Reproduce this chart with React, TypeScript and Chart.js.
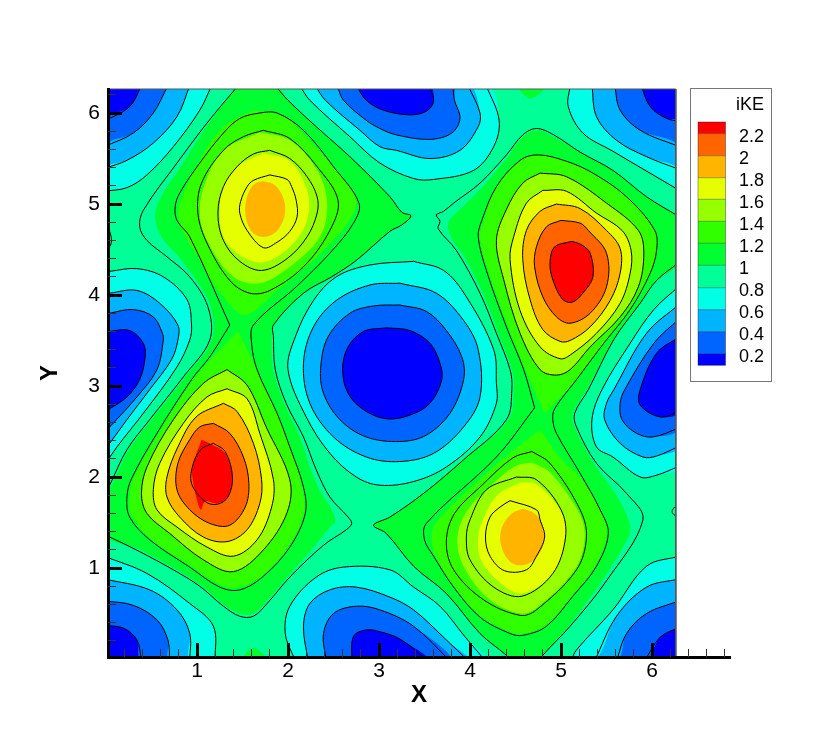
import React, { useEffect, useRef } from "react";
import { Chart, registerables } from "chart.js";

Chart.register(...registerables);

type Pt = [number, number];

// ---------- axis ticks ----------
const majorTicks = [1, 2, 3, 4, 5, 6];
const xMinorTicks = [0.2,0.4,0.6,0.8,1.2,1.4,1.6,1.8,2.2,2.4,2.6,2.8,3.2,3.4,3.6,3.8,4.2,4.4,4.6,4.8,5.2,5.4,5.6,5.8,6.2,6.4,6.6,6.8];
const yMinorTicks = [0.2,0.4,0.6,0.8,1.2,1.4,1.6,1.8,2.2,2.4,2.6,2.8,3.2,3.4,3.6,3.8,4.2,4.4,4.6,4.8,5.2,5.4,5.6,5.8,6.2];

// ---------- legend ----------
const legendTitle = "iKE";
const legendLabels = ["2.2","2","1.8","1.6","1.4","1.2","1","0.8","0.6","0.4","0.2"];
const legendColors = ["#ff0000","#ff6400","#ffb400","#e6ff00","#96ff00","#30ff00","#00ff30","#00ff96","#00ffe6","#00b4ff","#0064ff","#0000ff"];
const levelColor: Record<string,string> = {"2.2":"#ff0000","2":"#ff6400","1.8":"#ffb400","1.6":"#e6ff00","1.4":"#96ff00","1.2":"#30ff00","1":"#00ff30","0.8":"#00ffe6","0.6":"#00b4ff","0.4":"#0064ff","0.2":"#0000ff"};
const baseColor = "#00ff96";

// ---------- domain ----------
const fieldCorners: Pt[] = [[-0.1,-0.1],[6.262,-0.1],[6.262,6.4],[-0.1,6.4],[-0.1,-0.1]];
const frameEdge: Pt[] = [[0.022,6.264],[6.262,6.264],[6.262,0.022]];
const outsideStrip: Pt[] = [[6.264,-0.1],[7,-0.1],[7,6.4],[6.264,6.4],[6.264,-0.1]];

// ---------- peak A contours ----------
const A18: Pt[] = [[1.80,5.32],[1.99,5.27],[2.04,5.19],[2.09,5.04],[2.10,4.86],[2.02,4.70],[1.88,4.58],[1.73,4.52],[1.55,4.71],[1.47,4.90],[1.48,5.03],[1.55,5.19],[1.62,5.26]];
const A16: Pt[] = [[1.80,5.59],[2.02,5.50],[2.21,5.30],[2.32,5.08],[2.32,4.90],[2.21,4.64],[1.99,4.40],[1.71,4.27],[1.47,4.37],[1.29,4.60],[1.23,4.90],[1.29,5.19],[1.44,5.41],[1.62,5.55]];
const A14: Pt[] = [[1.73,5.81],[2.02,5.72],[2.32,5.41],[2.55,5.04],[2.46,4.71],[2.17,4.31],[1.80,4.05],[1.58,4.02],[1.36,4.16],[1.11,4.57],[1.01,4.90],[1.05,5.23],[1.29,5.59],[1.51,5.74]];
// ---------- peak A fill outlines ----------
const A18f: Pt[] = [[1.72,5.25],[1.84,5.22],[1.93,5.11],[1.97,4.96],[1.94,4.80],[1.85,4.68],[1.73,4.64],[1.62,4.68],[1.55,4.80],[1.53,4.96],[1.56,5.11],[1.63,5.22]];
const A16f: Pt[] = [[1.73,5.56],[2.02,5.47],[2.21,5.15],[2.21,4.82],[2.02,4.53],[1.73,4.36],[1.47,4.44],[1.29,4.64],[1.25,4.93],[1.29,5.19],[1.44,5.41]];
const A14f: Pt[] = [[1.69,5.79],[2.02,5.70],[2.32,5.37],[2.43,5.01],[2.35,4.64],[2.02,4.31],[1.69,4.13],[1.40,4.20],[1.11,4.60],[1.03,4.90],[1.09,5.23],[1.29,5.59]];
const A12f: Pt[] = [[1.62,6.03],[1.95,5.96],[2.20,5.74],[2.72,5.12],[2.72,4.90],[2.39,4.49],[1.88,4.05],[1.53,3.78],[1.29,3.98],[1.03,4.38],[0.81,4.79],[0.81,5.0],[1.03,5.48],[1.29,5.85]];
// ---------- peak C ----------
const C22: Pt[] = [[1.18,2.37],[1.31,2.28],[1.39,2.0],[1.34,1.78],[1.22,1.70],[1.09,1.73],[0.94,1.93],[0.96,2.15],[1.05,2.31]];
const C22f: Pt[] = [[1.05,2.41],[1.18,2.35],[1.31,2.26],[1.39,2.0],[1.34,1.78],[1.22,1.71],[1.09,1.73],[1.04,1.64],[0.96,1.93],[0.95,2.11]];
const C20: Pt[] = [[1.18,2.59],[1.36,2.48],[1.51,2.22],[1.57,1.93],[1.53,1.67],[1.36,1.47],[1.14,1.49],[0.92,1.64],[0.78,1.86],[0.79,2.15],[0.92,2.41],[1.03,2.55]];
const C18: Pt[] = [[1.29,2.81],[1.44,2.72],[1.62,2.37],[1.71,1.97],[1.69,1.71],[1.55,1.42],[1.33,1.29],[1.07,1.34],[0.81,1.56],[0.67,1.78],[0.67,2.0],[0.79,2.33],[0.99,2.66]];
const C16: Pt[] = [[1.33,2.97],[1.55,2.86],[1.69,2.48],[1.84,1.97],[1.82,1.67],[1.66,1.31],[1.40,1.13],[1.11,1.23],[0.78,1.45],[0.56,1.64],[0.52,1.86],[0.59,2.15],[0.85,2.59],[1.11,2.88]];
const C14: Pt[] = [[1.33,3.18],[1.55,3.01],[1.76,2.55],[2.02,1.97],[1.99,1.61],[1.73,1.20],[1.40,0.96],[1.07,1.09],[0.70,1.38],[0.45,1.60],[0.39,1.82],[0.45,2.11],[0.74,2.63],[1.07,3.03]];
const C12f: Pt[] = [[1.45,3.60],[1.66,3.18],[1.88,2.70],[2.02,2.33],[2.15,1.89],[2.17,1.60],[2.0,1.23],[1.73,0.93],[1.47,0.79],[1.25,0.82],[0.92,1.03],[0.48,1.33],[0.28,1.58],[0.26,1.78],[0.30,1.98],[0.58,2.48],[0.96,3.07],[1.25,3.40]];
// ---------- A + C outer contours ----------
const AC12: Pt[] = [[1.36,3.67],[0.92,4.64],[0.78,4.82],[0.76,4.97],[0.81,5.12],[1.03,5.45],[1.29,5.78],[1.47,5.94],[1.69,6.0],[1.88,6.0],[2.17,5.81],[2.50,5.41],[2.78,5.01],[2.72,4.79],[2.46,4.46],[2.09,4.09],[1.62,3.67],[1.60,3.47],[1.66,3.18],[1.88,2.70],[2.02,2.33],[2.17,1.89],[2.19,1.60],[2.02,1.23],[1.73,0.91],[1.47,0.76],[1.25,0.79],[0.92,1.01],[0.48,1.31],[0.26,1.56],[0.23,1.78],[0.28,1.98],[0.56,2.48],[0.94,3.07],[1.14,3.32]];
const AC10a: Pt[] = [[1.45,6.3],[1.11,5.89],[0.78,5.45],[0.41,4.93],[0.37,4.75],[0.45,4.60],[0.67,4.42],[0.92,4.20],[1.12,3.87],[1.14,3.505],[0.85,3.10],[0.48,2.63],[0.23,2.30],[0.04,1.91],[-0.02,1.80]];
const AC10b: Pt[] = [[-0.02,1.37],[0.37,1.18],[0.74,0.98],[1.03,0.80],[1.29,0.58],[1.47,0.47],[1.62,0.47],[1.77,0.61],[2.02,0.90],[2.39,1.25],[2.64,1.42],[2.70,1.49],[2.66,1.56],[2.46,1.78],[2.31,2.08],[2.17,2.44],[1.98,2.81],[1.86,3.18],[1.84,3.54],[1.84,3.67],[2.17,4.02],[2.48,4.20],[2.75,4.38],[3.12,4.70],[3.25,4.77],[3.35,4.87],[3.25,4.91],[3.12,5.08],[2.68,5.52],[2.31,5.85],[2.0,6.14],[1.86,6.3]];
const AC10f: Pt[] = [[1.45,6.3],[1.13,5.89],[0.85,5.45],[0.60,5.07],[0.54,4.86],[0.62,4.62],[0.80,4.42],[1.0,4.15],[1.15,3.87],[1.16,3.505],[0.87,3.10],[0.50,2.63],[0.25,2.30],[0.06,1.91],[-0.02,1.8],[-0.02,1.37],[0.37,1.20],[0.74,1.0],[1.03,0.82],[1.29,0.60],[1.47,0.50],[1.62,0.50],[1.77,0.64],[2.02,0.93],[2.30,1.25],[2.46,1.45],[2.52,1.52],[2.46,1.68],[2.35,1.85],[2.25,2.08],[2.13,2.44],[1.96,2.81],[1.84,3.18],[1.82,3.54],[1.84,3.67],[2.17,4.02],[2.48,4.20],[2.75,4.38],[3.12,4.70],[3.25,4.77],[3.37,4.87],[3.25,4.91],[3.12,5.08],[2.68,5.52],[2.31,5.85],[2.0,6.14],[1.86,6.3]];
// ---------- peak B ----------
const B22: Pt[] = [[5.12,4.59],[5.23,4.55],[5.32,4.46],[5.35,4.20],[5.24,4.02],[5.12,3.92],[5.01,3.96],[4.90,4.20],[4.88,4.37],[4.93,4.53]];
const B20: Pt[] = [[5.0,4.82],[5.21,4.79],[5.30,4.71],[5.50,4.46],[5.50,4.09],[5.32,3.80],[5.10,3.69],[4.95,3.76],[4.80,3.98],[4.71,4.31],[4.73,4.53],[4.84,4.75]];
const B18: Pt[] = [[4.95,5.0],[5.21,4.95],[5.50,4.71],[5.65,4.51],[5.65,4.24],[5.54,3.94],[5.32,3.65],[5.10,3.50],[4.99,3.49],[4.80,3.62],[4.66,3.95],[4.58,4.39],[4.62,4.71],[4.77,4.92]];
const B16: Pt[] = [[4.80,5.15],[5.06,5.14],[5.39,4.90],[5.67,4.71],[5.77,4.49],[5.76,4.24],[5.65,3.91],[5.39,3.58],[5.10,3.34],[4.99,3.30],[4.77,3.43],[4.55,3.83],[4.44,4.39],[4.48,4.64],[4.62,5.01]];
const B14: Pt[] = [[4.77,5.34],[5.06,5.30],[5.50,5.01],[5.85,4.71],[5.91,4.46],[5.85,4.09],[5.65,3.76],[5.32,3.43],[5.10,3.18],[4.95,3.12],[4.77,3.18],[4.55,3.58],[4.37,4.17],[4.29,4.60],[4.40,4.94],[4.58,5.23]];
const B12f: Pt[] = [[4.82,2.70],[5.17,3.07],[5.47,3.47],[5.76,3.84],[5.98,4.24],[6.05,4.49],[6.03,4.71],[5.72,5.08],[5.35,5.34],[5.06,5.47],[4.75,5.54],[4.55,5.48],[4.29,5.19],[4.15,4.82],[4.11,4.64],[4.20,4.27],[4.42,3.65],[4.61,3.18]];
// ---------- peak D ----------
const D18: Pt[] = [[4.44,1.74],[4.73,1.64],[4.77,1.53],[4.82,1.34],[4.73,1.13],[4.62,0.98],[4.38,0.97],[4.22,1.13],[4.17,1.34],[4.22,1.56],[4.33,1.67]];
const D16: Pt[] = [[4.51,2.0],[4.73,1.97],[5.0,1.64],[5.05,1.34],[4.91,0.94],[4.57,0.69],[4.26,0.79],[4.0,1.09],[3.96,1.34],[4.0,1.53],[4.18,1.86]];
const D14: Pt[] = [[4.68,2.28],[4.88,2.15],[5.21,1.64],[5.28,1.34],[5.17,0.98],[4.73,0.54],[4.55,0.48],[4.15,0.65],[3.82,0.98],[3.74,1.29],[3.83,1.60],[4.11,1.89],[4.47,2.21]];
const D18f: Pt[] = [[4.58,1.65],[4.71,1.60],[4.79,1.49],[4.82,1.34],[4.78,1.19],[4.68,1.07],[4.55,1.03],[4.44,1.07],[4.36,1.19],[4.33,1.34],[4.37,1.49],[4.46,1.60]];
const D16f: Pt[] = [[4.55,1.94],[4.73,1.92],[5.0,1.62],[5.05,1.34],[4.91,0.94],[4.57,0.72],[4.33,0.84],[4.12,1.09],[4.09,1.34],[4.15,1.55],[4.30,1.80]];
const D14f: Pt[] = [[4.68,2.16],[4.88,2.05],[5.19,1.62],[5.26,1.34],[5.15,0.98],[4.73,0.56],[4.55,0.50],[4.22,0.65],[3.95,0.98],[3.86,1.29],[3.95,1.60],[4.25,1.92],[4.50,2.12]];
const D12f: Pt[] = [[4.77,2.52],[5.0,2.2],[5.21,2.0],[5.43,1.64],[5.50,1.38],[5.37,1.02],[5.13,0.71],[4.84,0.38],[4.58,0.28],[4.44,0.30],[4.11,0.48],[3.82,0.81],[3.62,1.13],[3.58,1.31],[3.62,1.49],[4.29,2.14]];
// ---------- B + D outer contours ----------
const BD12: Pt[] = [[4.71,2.76],[4.29,2.22],[3.52,1.49],[3.50,1.31],[3.60,1.13],[3.82,0.79],[4.11,0.46],[4.44,0.28],[4.58,0.26],[4.84,0.36],[5.13,0.69],[5.39,1.02],[5.52,1.38],[5.43,1.64],[5.21,2.04],[4.95,2.48],[4.91,2.63],[4.93,2.75],[5.17,3.07],[5.47,3.47],[5.76,3.84],[5.98,4.24],[6.05,4.49],[6.03,4.71],[5.72,5.08],[5.35,5.34],[5.06,5.47],[4.75,5.54],[4.55,5.48],[4.29,5.19],[4.13,4.82],[4.09,4.64],[4.18,4.27],[4.40,3.65],[4.59,3.18]];
const BD10a: Pt[] = [[6.3,4.86],[5.94,5.08],[5.57,5.37],[5.21,5.57],[4.92,5.76],[4.73,5.83],[4.58,5.76],[4.40,5.54],[4.11,5.23],[3.82,5.01],[3.71,4.92],[3.63,4.88],[3.67,4.81],[3.65,4.73],[3.85,4.49],[4.11,4.02],[4.29,3.58],[4.44,3.18],[4.46,2.96],[4.40,2.63],[3.93,2.19],[3.49,1.82],[3.12,1.56],[2.94,1.47],[3.08,1.38],[3.38,1.02],[3.74,0.72],[4.11,0.28],[4.40,0.04],[4.44,-0.02]];
const BD10b: Pt[] = [[4.78,-0.02],[4.80,0.04],[5.10,0.36],[5.50,0.86],[5.90,1.53],[5.72,1.82],[5.39,2.15],[5.17,2.55],[5.15,2.70],[5.30,2.96],[5.58,3.51],[5.87,3.91],[6.05,4.16],[6.3,4.36]];
const BD10f: Pt[] = [[6.3,4.86],[5.94,5.08],[5.57,5.37],[5.21,5.57],[4.92,5.74],[4.73,5.81],[4.58,5.74],[4.40,5.50],[4.15,5.20],[3.90,4.95],[3.76,4.79],[3.80,4.62],[3.95,4.40],[4.15,4.0],[4.31,3.58],[4.46,3.18],[4.48,2.96],[4.42,2.63],[3.93,2.19],[3.49,1.82],[3.12,1.56],[2.94,1.47],[3.08,1.38],[3.38,1.02],[3.74,0.72],[4.11,0.28],[4.40,0.04],[4.44,-0.02],[4.78,-0.02],[4.80,0.04],[5.10,0.38],[5.45,0.86],[5.72,1.30],[5.76,1.46],[5.62,1.78],[5.36,2.15],[5.15,2.55],[5.13,2.70],[5.28,2.96],[5.58,3.51],[5.87,3.91],[6.05,4.16],[6.3,4.36]];
const rightNotch: Pt[] = [[6.3,1.72],[6.22,1.62],[6.3,1.54]];
const leftNotch: Pt[] = [[-0.02,4.80],[0.04,4.7],[0.06,4.6],[0.04,4.53],[-0.02,4.50]];
const bottomPatch: Pt[] = [[1.45,-0.05],[1.62,0.12],[1.79,-0.05]];
const topPatch: Pt[] = [[4.50,6.3],[4.66,6.16],[4.83,6.3]];
// ---------- centre low E ----------
const E08: Pt[] = [[3.38,4.37],[3.71,4.27],[3.96,3.98],[4.26,3.40],[4.29,3.03],[4.29,2.81],[4.11,2.44],[3.74,2.11],[3.38,1.95],[3.01,1.91],[2.75,2.0],[2.46,2.26],[2.20,2.66],[2.0,3.18],[2.08,3.54],[2.28,3.94],[2.53,4.20],[2.90,4.33]];
const E06: Pt[] = [[3.23,4.13],[3.63,4.02],[3.93,3.72],[4.09,3.40],[4.11,2.88],[3.93,2.55],[3.60,2.26],[3.23,2.17],[2.86,2.22],[2.50,2.44],[2.24,2.81],[2.17,3.25],[2.28,3.65],[2.53,3.94],[2.90,4.11]];
const E04: Pt[] = [[3.23,3.89],[3.52,3.82],[3.74,3.61],[3.91,3.32],[3.93,3.07],[3.78,2.70],[3.52,2.46],[3.23,2.39],[2.86,2.44],[2.57,2.63],[2.39,2.92],[2.36,3.21],[2.44,3.54],[2.68,3.80],[2.94,3.88]];
const E02: Pt[] = [[3.08,3.64],[3.34,3.61],[3.56,3.47],[3.67,3.25],[3.69,3.07],[3.56,2.81],[3.34,2.68],[3.08,2.64],[2.83,2.74],[2.66,2.92],[2.60,3.18],[2.66,3.43],[2.83,3.60]];
// ---------- left low F ----------
const F08: Pt[] = [[-0.02,4.25],[0.04,4.26],[0.34,4.29],[0.63,4.20],[0.89,3.95],[0.94,3.67],[0.92,3.505],[0.78,3.21],[0.41,2.70],[0.12,2.33],[-0.02,2.12]];
const F06: Pt[] = [[-0.02,4.0],[0.04,4.02],[0.34,4.05],[0.59,3.91],[0.79,3.67],[0.79,3.505],[0.72,3.29],[0.48,2.96],[0.23,2.63],[0.04,2.37],[-0.02,2.30]];
const F04: Pt[] = [[-0.02,3.78],[0.04,3.80],[0.30,3.84],[0.52,3.76],[0.62,3.58],[0.63,3.505],[0.56,3.18],[0.34,2.88],[0.04,2.55],[-0.02,2.50]];
const F02: Pt[] = [[-0.02,3.58],[0.04,3.60],[0.26,3.61],[0.41,3.47],[0.43,3.32],[0.37,3.07],[0.23,2.88],[0.04,2.75],[-0.02,2.72]];
// ---------- right low G ----------
const G08: Pt[] = [[6.3,4.10],[6.02,3.84],[5.76,3.47],[5.45,2.96],[5.34,2.63],[5.39,2.33],[5.57,2.22],[5.87,2.0],[6.05,2.02],[6.3,2.12]];
const G06: Pt[] = [[6.3,3.90],[5.94,3.58],[5.58,2.96],[5.50,2.81],[5.48,2.63],[5.65,2.37],[5.90,2.22],[6.05,2.23],[6.3,2.34]];
const G04: Pt[] = [[6.3,3.74],[6.02,3.47],[5.70,2.96],[5.65,2.81],[5.67,2.63],[5.83,2.48],[6.01,2.44],[6.3,2.54]];
const G02: Pt[] = [[6.3,3.54],[6.05,3.36],[5.87,2.96],[5.87,2.79],[6.09,2.66],[6.3,2.72]];
// ---------- top-left corner ----------
const TL08: Pt[] = [[1.16,6.3],[1.03,6.03],[0.74,5.63],[0.45,5.32],[0.23,5.18],[-0.02,5.14]];
const TL06: Pt[] = [[0.92,6.3],[0.78,5.96],[0.52,5.67],[0.23,5.48],[-0.02,5.39]];
const TL04: Pt[] = [[0.68,6.3],[0.52,6.0],[0.30,5.78],[-0.02,5.63]];
const TL02: Pt[] = [[0.39,6.3],[0.26,6.07],[-0.02,5.91]];
// ---------- top-middle low ----------
const TM08: Pt[] = [[2.13,6.3],[2.24,6.14],[2.68,5.74],[3.01,5.45],[3.38,5.28],[3.60,5.27],[4.04,5.37],[4.26,5.63],[4.32,5.92],[4.18,6.3]];
const TM06: Pt[] = [[2.30,6.3],[2.41,6.14],[2.79,5.81],[3.01,5.63],[3.19,5.59],[3.56,5.50],[3.89,5.59],[4.09,5.85],[4.11,6.0],[3.98,6.3]];
const TM04: Pt[] = [[2.54,6.3],[2.61,6.14],[2.86,5.92],[3.01,5.83],[3.19,5.76],[3.56,5.71],[3.80,5.78],[3.89,5.94],[3.83,6.14],[3.81,6.3]];
const TM02: Pt[] = [[2.75,6.3],[2.86,6.14],[3.05,6.03],[3.34,5.98],[3.52,6.02],[3.60,6.13],[3.55,6.3]];
// ---------- top-right corner ----------
const TR08: Pt[] = [[5.10,6.3],[5.08,6.07],[5.24,5.78],[5.57,5.58],[6.3,5.15]];
const TR06: Pt[] = [[5.34,6.3],[5.39,5.96],[5.61,5.70],[5.94,5.52],[6.3,5.38]];
const TR04: Pt[] = [[5.59,6.3],[5.65,6.03],[5.87,5.81],[6.3,5.63]];
const TR02: Pt[] = [[5.88,6.3],[5.98,6.07],[6.16,5.94],[6.3,5.91]];
// ---------- bottom-left corner ----------
const BL08: Pt[] = [[-0.02,1.13],[0.45,0.94],[0.92,0.61],[1.18,0.36],[1.20,-0.02]];
const BL06: Pt[] = [[-0.02,0.88],[0.48,0.76],[0.78,0.54],[0.92,0.28],[0.92,-0.02]];
const BL04: Pt[] = [[-0.02,0.64],[0.30,0.59],[0.56,0.43],[0.68,0.21],[0.70,-0.02]];
const BL02: Pt[] = [[-0.02,0.37],[0.19,0.34],[0.34,0.21],[0.39,-0.02]];
// ---------- bottom-middle low ----------
const BM08: Pt[] = [[2.08,-0.02],[1.97,0.28],[2.02,0.58],[2.31,0.90],[2.61,1.01],[3.12,0.98],[3.38,0.79],[3.67,0.58],[3.94,0.25],[4.17,-0.02]];
const BM06: Pt[] = [[2.22,-0.02],[2.17,0.36],[2.24,0.61],[2.46,0.76],[2.75,0.79],[3.12,0.68],[3.38,0.54],[3.74,0.21],[3.98,-0.02]];
const BM04: Pt[] = [[2.42,-0.02],[2.39,0.28],[2.50,0.50],[2.75,0.58],[3.01,0.54],[3.38,0.36],[3.78,-0.02]];
const BM02: Pt[] = [[2.70,-0.02],[2.72,0.25],[2.86,0.32],[3.01,0.30],[3.23,0.22],[3.54,-0.02]];
// ---------- bottom-right corner ----------
const BR08: Pt[] = [[6.3,1.13],[5.94,1.02],[5.57,0.54],[5.17,0.10],[5.11,-0.02]];
const BR06: Pt[] = [[6.3,0.88],[5.94,0.79],[5.61,0.47],[5.37,-0.02]];
const BR04: Pt[] = [[6.3,0.64],[5.94,0.50],[5.72,0.28],[5.61,-0.02]];
const BR02: Pt[] = [[6.3,0.35],[6.09,0.24],[5.92,-0.02]];

// filled bands: level + outline (closed automatically), extra closing points for corner regions
type Band = { level: string; pts: Pt[]; close?: Pt[] };
const TLc: Pt[] = [[-0.1,5],[-0.1,6.4],[1.2,6.4]];
const TRc: Pt[] = [[6.4,5],[6.4,6.4]];
const BLc: Pt[] = [[1.3,-0.1],[-0.1,-0.1]];
const BRc: Pt[] = [[5,-0.1],[6.4,-0.1]];
const bands: Band[] = [
  { level:"1", pts:AC10f }, { level:"1", pts:BD10f }, { level:"1", pts:bottomPatch }, { level:"1", pts:topPatch },
  { level:"1.2", pts:A12f }, { level:"1.2", pts:C12f }, { level:"1.2", pts:B12f }, { level:"1.2", pts:D12f },
  { level:"1.4", pts:A14f }, { level:"1.4", pts:C14 }, { level:"1.4", pts:B14 }, { level:"1.4", pts:D14f },
  { level:"1.6", pts:A16f }, { level:"1.6", pts:C16 }, { level:"1.6", pts:B16 }, { level:"1.6", pts:D16f },
  { level:"1.8", pts:A18f }, { level:"1.8", pts:C18 }, { level:"1.8", pts:B18 }, { level:"1.8", pts:D18f },
  { level:"2", pts:C20 }, { level:"2", pts:B20 },
  { level:"2.2", pts:C22f }, { level:"2.2", pts:B22 },
  { level:"0.8", pts:E08 }, { level:"0.8", pts:F08 }, { level:"0.8", pts:G08 }, { level:"0.8", pts:TL08, close:TLc }, { level:"0.8", pts:TM08 }, { level:"0.8", pts:TR08, close:TRc }, { level:"0.8", pts:BL08, close:BLc }, { level:"0.8", pts:BM08 }, { level:"0.8", pts:BR08, close:BRc },
  { level:"0.6", pts:E06 }, { level:"0.6", pts:F06 }, { level:"0.6", pts:G06 }, { level:"0.6", pts:TL06, close:TLc }, { level:"0.6", pts:TM06 }, { level:"0.6", pts:TR06, close:TRc }, { level:"0.6", pts:BL06, close:BLc }, { level:"0.6", pts:BM06 }, { level:"0.6", pts:BR06, close:BRc },
  { level:"0.4", pts:E04 }, { level:"0.4", pts:F04 }, { level:"0.4", pts:G04 }, { level:"0.4", pts:TL04, close:TLc }, { level:"0.4", pts:TM04 }, { level:"0.4", pts:TR04, close:TRc }, { level:"0.4", pts:BL04, close:BLc }, { level:"0.4", pts:BM04 }, { level:"0.4", pts:BR04, close:BRc },
  { level:"0.2", pts:E02 }, { level:"0.2", pts:F02 }, { level:"0.2", pts:G02 }, { level:"0.2", pts:TL02, close:TLc }, { level:"0.2", pts:TM02 }, { level:"0.2", pts:TR02, close:TRc }, { level:"0.2", pts:BL02, close:BLc }, { level:"0.2", pts:BM02 }, { level:"0.2", pts:BR02, close:BRc },
];
// black contour lines
const ringLines: Pt[][] = [A18,A16,A14,C22,C20,C18,C16,C14,AC12,B22,B20,B18,B16,B14,D18,D16,D14,BD12,E08,E06,E04,E02];
const openLines: Pt[][] = [AC10a,AC10b,BD10a,BD10b,rightNotch,leftNotch,F08,F06,F04,F02,G08,G06,G04,G02,TL08,TL06,TL04,TL02,TM08,TM06,TM04,TM02,TR08,TR06,TR04,TR02,BL08,BL06,BL04,BL02,BM08,BM06,BM04,BM02,BR08,BR06,BR04,BR02];

const FONT = "'Liberation Sans', Arial, Helvetica, sans-serif";
const X_MIN = 0.022, X_MAX = 6.857, Y_MIN = 0.022, Y_MAX = 6.264;
const fieldClip = { left: 0, top: 0, bottom: 0, right: -54.5 };
const TENSION = 0.35;

const xy = (pts: Pt[]) => pts.map(([x, y]) => ({ x, y }));

function buildDatasets() {
  const fills: any[] = [
    { data: xy(fieldCorners), showLine: true, fill: "shape", backgroundColor: baseColor, borderWidth: 0, pointRadius: 0, tension: 0 },
  ];
  for (const b of bands) {
    const shape: Pt[] = [...b.pts, ...(b.close || []), b.pts[0]];
    fills.push({ data: xy(shape), showLine: true, fill: "shape", backgroundColor: levelColor[b.level], borderWidth: 0, pointRadius: 0, tension: TENSION, clip: fieldClip });
  }
  fills.push({ data: xy(outsideStrip), showLine: true, fill: "shape", backgroundColor: "#ffffff", borderWidth: 0, pointRadius: 0, tension: 0 });
  const line = (pts: Pt[]) => ({ data: xy(pts), showLine: true, fill: false, borderColor: "#000", borderWidth: 1, pointRadius: 0, tension: TENSION, clip: fieldClip });
  const lines: any[] = [
    ...ringLines.map((p) => line([...p, p[0]])),
    ...openLines.map((p) => line(p)),
    { data: xy(frameEdge), showLine: true, fill: false, borderColor: "#555", borderWidth: 1, pointRadius: 0, tension: 0, clip: false },
  ];
  // Chart.js paints index 0 last
  return [...lines.reverse(), ...fills.reverse()];
}

const legendPlugin = {
  id: "contourLegend",
  afterDraw(chart: any) {
    const c = chart.ctx;
    c.save();
    c.fillStyle = "#fff";
    c.strokeStyle = "#777";
    c.lineWidth = 1;
    c.fillRect(691, 89, 80, 292);
    c.strokeRect(690.5, 88.5, 81, 293);
    c.fillStyle = "#000";
    c.font = `18px ${FONT}`;
    c.textBaseline = "middle";
    c.textAlign = "right";
    c.fillText(legendTitle, 764, 105);
    const edges = [122, 133.7, 155.7, 177.7, 199.3, 221.3, 243.3, 265.3, 287.7, 309.7, 331.7, 354, 365.3];
    legendColors.forEach((col, i) => {
      c.fillStyle = col;
      c.fillRect(698, edges[i], 27.5, edges[i + 1] - edges[i]);
    });
    c.strokeStyle = "rgba(0,0,0,0.35)";
    c.strokeRect(698, 122, 27.5, 243.3);
    edges.slice(1, -1).forEach((e) => {
      c.beginPath();
      c.moveTo(698, e);
      c.lineTo(725.5, e);
      c.stroke();
    });
    c.fillStyle = "#000";
    c.textAlign = "left";
    legendLabels.forEach((t, i) => c.fillText(t, 739, 137.5 + i * 21.95));
    c.restore();
  },
};

export default function App() {
  const ref = useRef<HTMLCanvasElement>(null);
  useEffect(() => {
    const chart = new Chart(ref.current as HTMLCanvasElement, {
      type: "scatter",
      data: { datasets: buildDatasets() },
      plugins: [legendPlugin],
      options: {
        animation: false,
        responsive: false,
        events: [],
        layout: { padding: { top: 89, right: 100, left: 0, bottom: 0 } },
        plugins: {
          legend: { display: false },
          tooltip: { enabled: false },
          filler: { drawTime: "beforeDatasetsDraw", propagate: false },
        },
        scales: {
          x: {
            type: "linear", position: "bottom", min: X_MIN, max: X_MAX, weight: 0,
            afterBuildTicks: (s: any) => { s.ticks = majorTicks.map((value) => ({ value })); },
            afterFit: (s: any) => { s.height = 82; },
            ticks: { z: 1, autoSkip: false, maxRotation: 0, padding: 16, color: "#000", font: { family: FONT, size: 21 }, callback: (v: any) => String(v) },
            grid: { z: 1, drawOnChartArea: false, drawTicks: true, tickLength: -14, tickWidth: 3, tickColor: "#000" },
            border: { z: 1, display: true, color: "#000", width: 3 },
            title: { display: true, text: "X", color: "#000", font: { family: FONT, size: 24, weight: "bold" }, padding: { top: 0, bottom: 29.6 } },
          },
          xMinor: {
            type: "linear", position: "bottom", min: X_MIN, max: X_MAX, weight: -1,
            afterBuildTicks: (s: any) => { s.ticks = xMinorTicks.map((value) => ({ value })); },
            afterFit: (s: any) => { s.height = 0; },
            ticks: { display: false, autoSkip: false },
            grid: { z: 1, drawOnChartArea: false, drawTicks: true, tickLength: -8, tickWidth: 1, tickColor: "#333" },
            border: { display: false },
          },
          y: {
            type: "linear", position: "left", min: Y_MIN, max: Y_MAX, weight: 0,
            afterBuildTicks: (s: any) => { s.ticks = majorTicks.map((value) => ({ value })); },
            afterFit: (s: any) => { s.width = 108; },
            ticks: { z: 1, autoSkip: false, padding: 22, color: "#000", font: { family: FONT, size: 21 }, callback: (v: any) => String(v) },
            grid: { z: 1, drawOnChartArea: false, drawTicks: true, tickLength: -14, tickWidth: 3, tickColor: "#000" },
            border: { z: 1, display: true, color: "#000", width: 3 },
            title: { display: true, text: "Y", color: "#000", font: { family: FONT, size: 24, weight: "bold" }, padding: { top: 35.6, bottom: 0 } },
          },
          yMinor: {
            type: "linear", position: "left", min: Y_MIN, max: Y_MAX, weight: -1,
            afterBuildTicks: (s: any) => { s.ticks = yMinorTicks.map((value) => ({ value })); },
            afterFit: (s: any) => { s.width = 0; },
            ticks: { display: false, autoSkip: false },
            grid: { z: 1, drawOnChartArea: false, drawTicks: true, tickLength: -8, tickWidth: 1, tickColor: "#333" },
            border: { display: false },
          },
        },
      } as any,
    });
    return () => chart.destroy();
  }, []);
  return <canvas ref={ref} width={830} height={739} style={{ position: "absolute", left: 0, top: 0, display: "block" }} />;
}
